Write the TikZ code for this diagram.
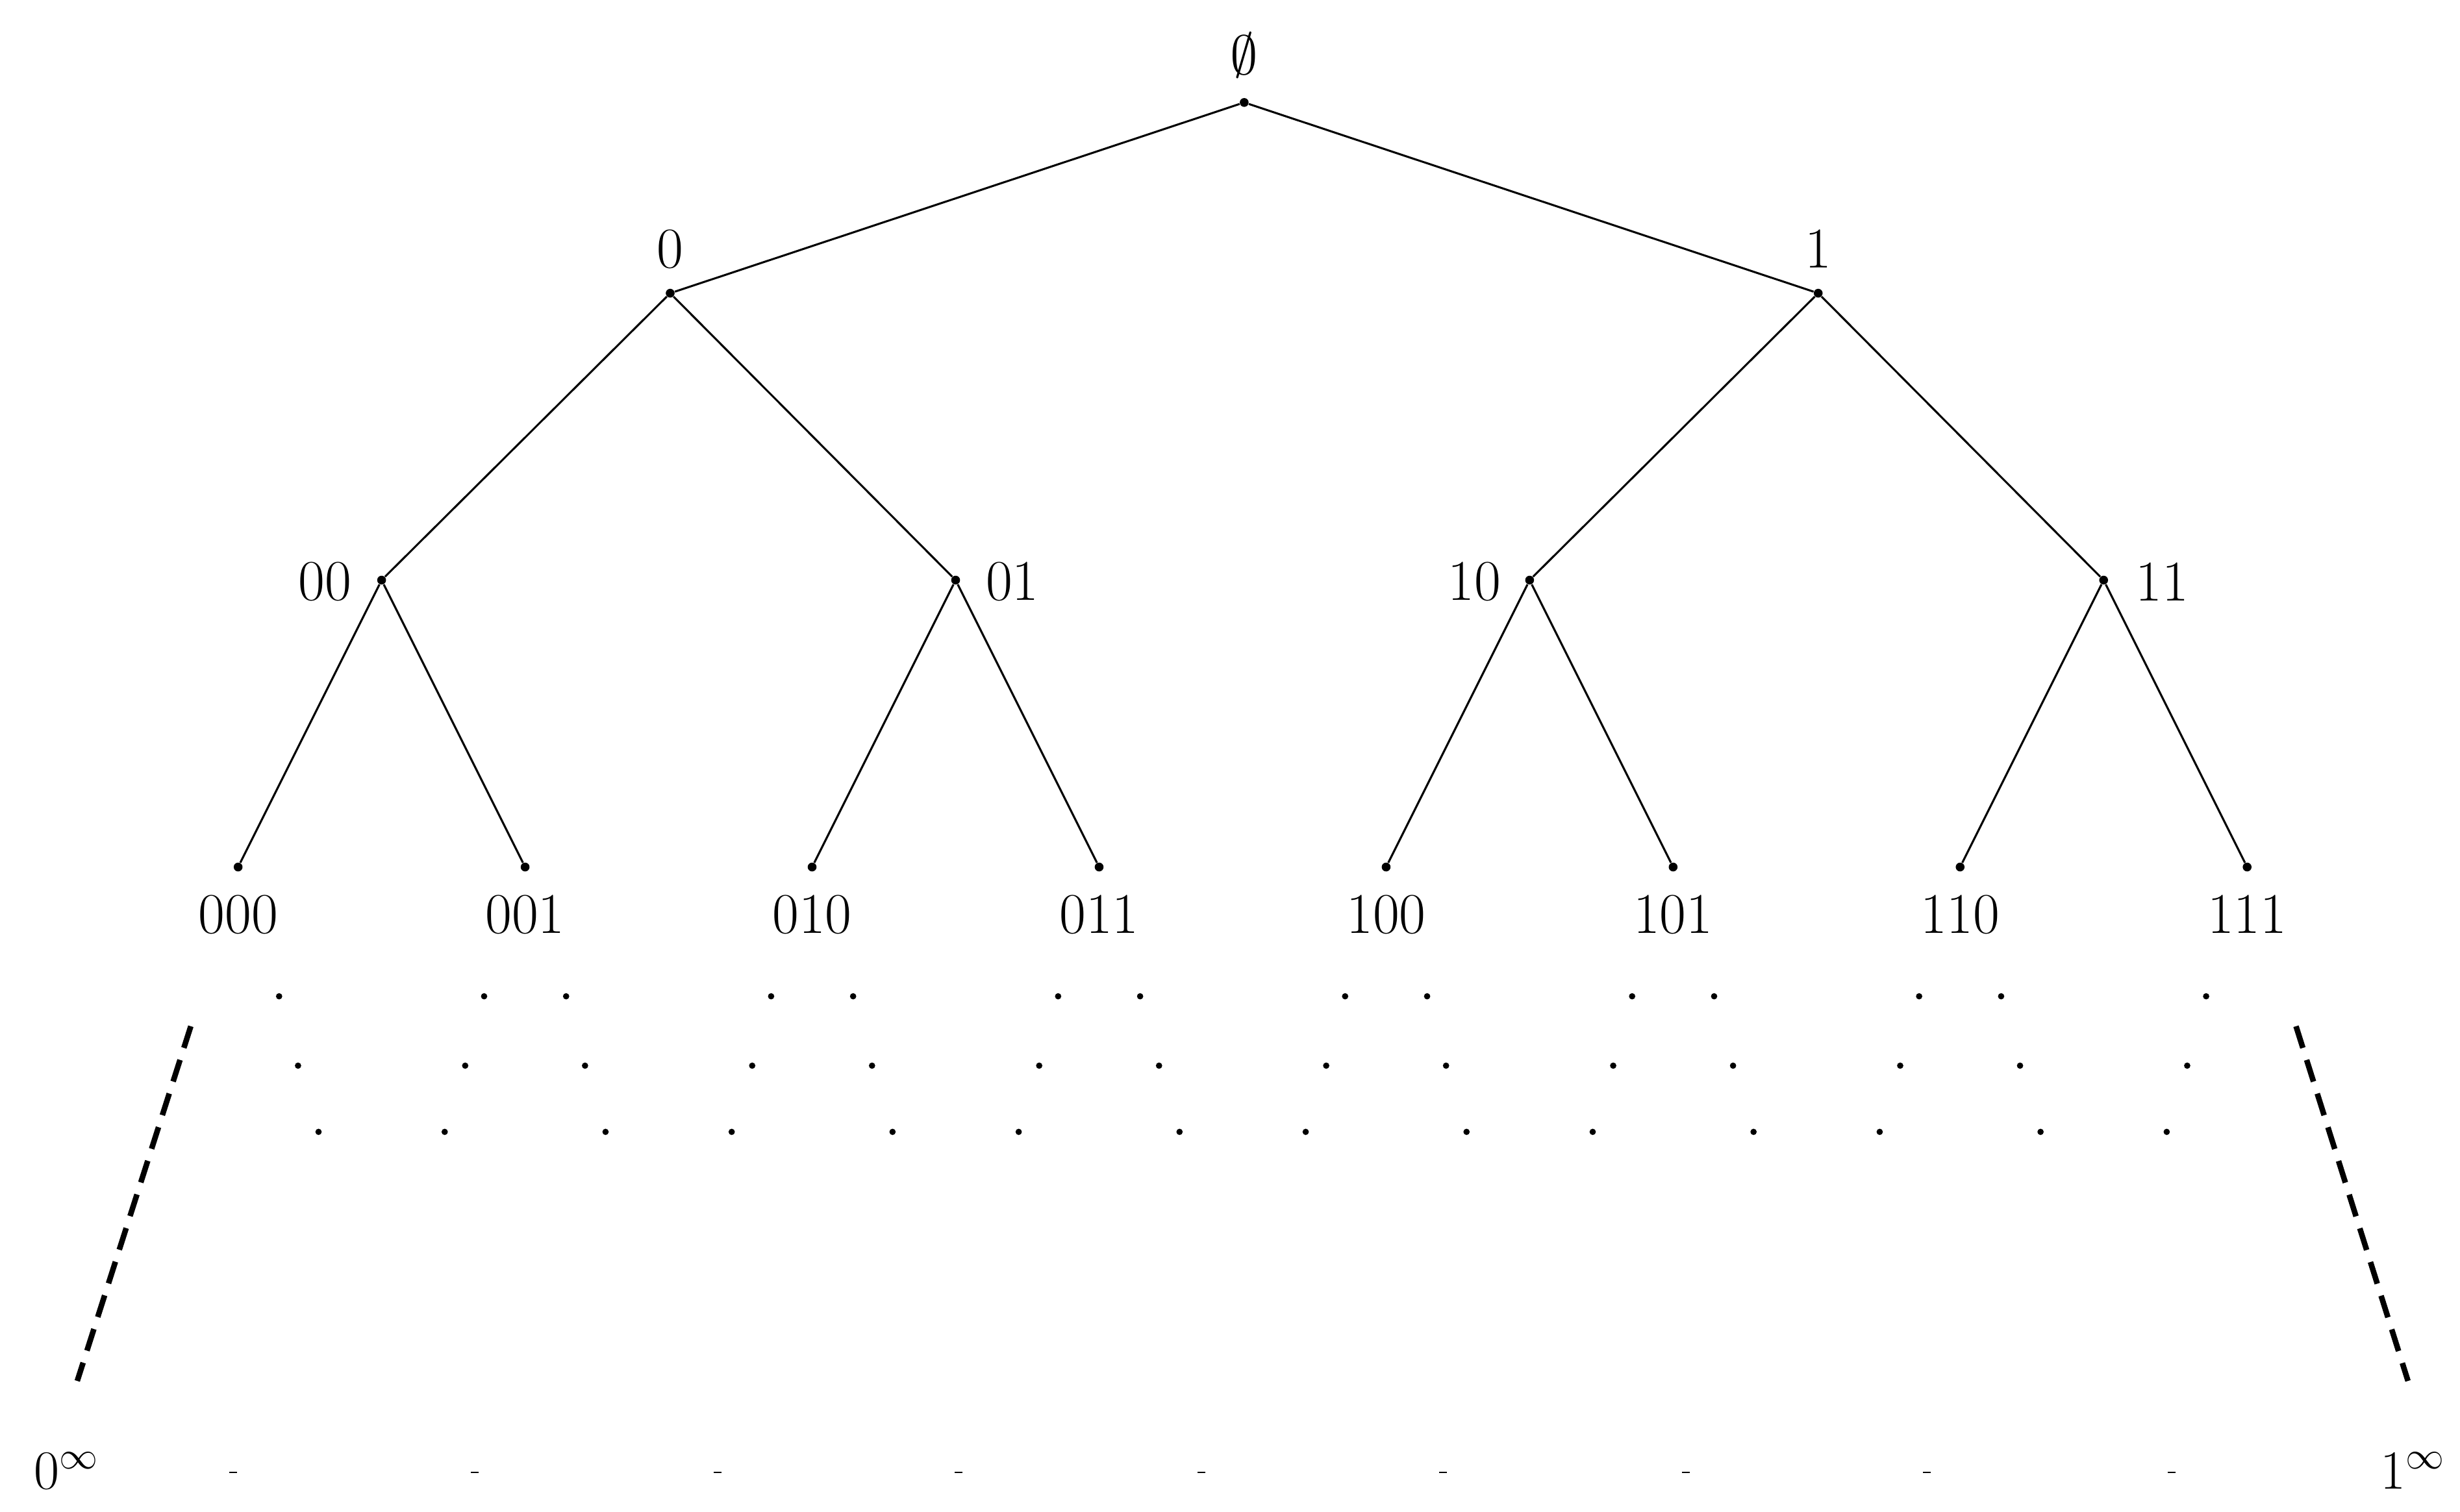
\documentclass[tikz,border=0pt]{standalone}
\begin{document}
\begin{tikzpicture}[x=0.025cm,y=-0.025cm,
  vtx/.style={circle,fill=black,inner sep=0pt,minimum size=0.14cm},
  lab/.style={font=\fontsize{26}{30}\selectfont,inner sep=0pt},
  sdot/.style={circle,fill=black,inner sep=0pt,minimum size=0.1cm},
  edge/.style={line width=0.9pt},
  tail/.style={line width=2.5pt,dash pattern=on 0.36cm off 0.2cm}]
\useasboundingbox (0,0) rectangle (1560,959);
\node[vtx] (r) at (789,65) {};
\node[vtx] (n0) at (425,186) {};
\node[vtx] (n1) at (1153,186) {};
\node[vtx] (n00) at (242,368) {};
\node[vtx] (n01) at (606,368) {};
\node[vtx] (n10) at (970,368) {};
\node[vtx] (n11) at (1334,368) {};
\foreach \s/\x in {000/151,001/333,010/515,011/697,100/879,101/1061,110/1243,111/1425}{
  \node[vtx] (n\s) at (\x,550) {};
  \node[lab] (l\s) at (\x,580) {\s};
}
\node[lab] (lr) at (789,35) {$\emptyset$};
\node[lab] (l0) at (425,158) {0};
\node[lab] (l1) at (1153,158) {1};
\node[lab] (l00) at (206,369) {00};
\node[lab] (l01) at (642,369) {01};
\node[lab] (l10) at (935,369) {10};
\node[lab] (l11) at (1371,369) {11};
\draw[edge] (r)--(n0) (r)--(n1) (n0)--(n00) (n0)--(n01) (n1)--(n10) (n1)--(n11)
  (n00)--(n000) (n00)--(n001) (n01)--(n010) (n01)--(n011)
  (n10)--(n100) (n10)--(n101) (n11)--(n110) (n11)--(n111);
% continuation dots
\foreach \x in {151,333,515,697,879,1061,1243}{
  \node[sdot] at (\x+26,632) {}; \node[sdot] at (\x+38,676) {}; \node[sdot] at (\x+51,718) {};}
\foreach \x in {333,515,697,879,1061,1243,1425}{
  \node[sdot] at (\x-26,632) {}; \node[sdot] at (\x-38,676) {}; \node[sdot] at (\x-51,718) {};}
% tails
\coordinate (a1) at (121,651); \coordinate (a2) at (49,876);
\coordinate (b1) at (1456,651); \coordinate (b2) at (1527,876);
\draw[tail] (a1)--(a2);
\draw[tail] (b1)--(b2);
\node[lab] (z) at (42,933) {$0^\infty$};
\node[lab] (o) at (1530,933) {$1^\infty$};
\foreach \x in {148,301,455,608,762,915,1069,1222,1377}{
  \draw[line width=0.6pt] (\x-2.5,934)--(\x+2.5,934);}
\end{tikzpicture}
\end{document}
